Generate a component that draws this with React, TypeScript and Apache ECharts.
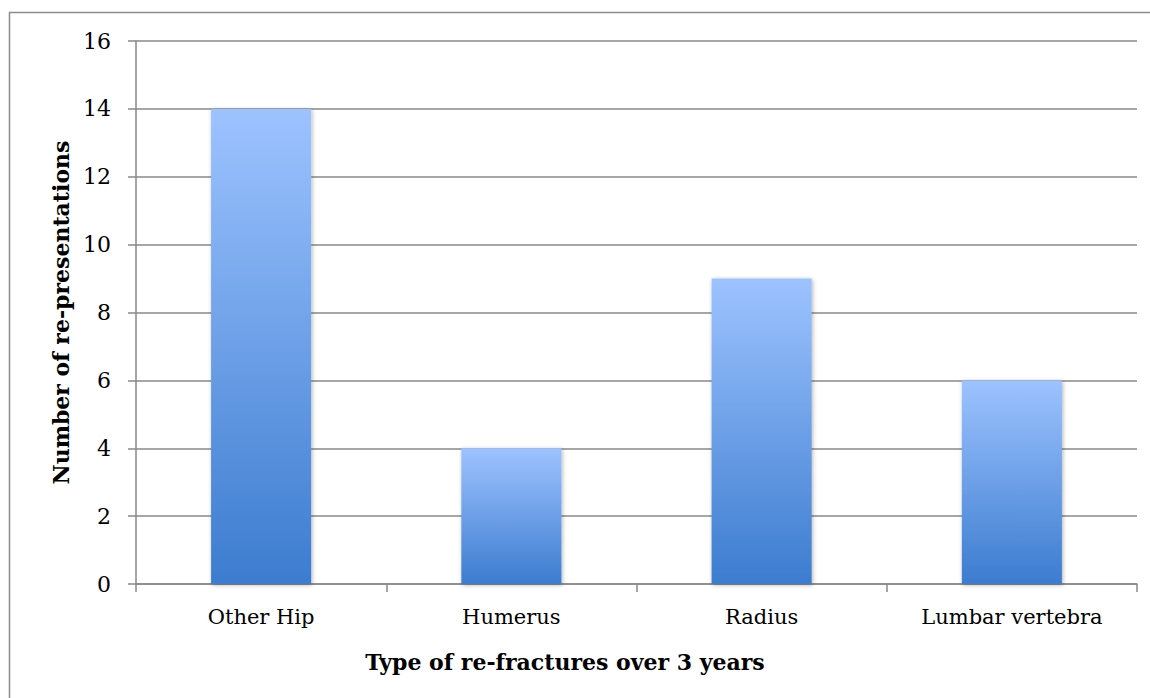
import React, { useEffect, useRef } from "react";
import * as echarts from "echarts";

const categories = ["Other Hip", "Humerus", "Radius", "Lumbar vertebra"];
const values = [14, 4, 9, 6];
const xTitle = "Type of re-fractures over 3 years";
const yTitle = "Number of re-presentations";

export default function App() {
  const ref = useRef<HTMLDivElement>(null);
  useEffect(() => {
    if (!ref.current) return;
    const chart = echarts.init(ref.current, null, { renderer: "svg" });
    const font = "DejaVu Serif";
    chart.setOption({
      animation: false,
      graphic: [
        {
          type: "rect",
          shape: { x: 9.5, y: 12.5, width: 1200, height: 750 },
          style: { fill: "none", stroke: "#8c8c8c", lineWidth: 1.5 },
          silent: true,
        },
        {
          type: "text",
          x: 565,
          y: 662,
          style: {
            text: xTitle,
            fontFamily: font,
            fontSize: 22,
            fontWeight: "bold",
            fill: "#000",
            align: "center",
            verticalAlign: "middle",
          },
          silent: true,
        },
      ],
      grid: { left: 136, right: 13, top: 41, bottom: 114, containLabel: false },
      xAxis: {
        type: "category",
        data: categories,
        axisLine: { lineStyle: { color: "#888", width: 1.5 } },
        axisTick: { show: true, length: 8, lineStyle: { color: "#888", width: 1.5 } },
        axisLabel: { fontFamily: font, fontSize: 21, color: "#000", margin: 22 },
      },
      yAxis: {
        type: "value",
        min: 0,
        max: 16,
        interval: 2,
        name: yTitle,
        nameLocation: "middle",
        nameGap: 63,
        nameTextStyle: { fontFamily: font, fontSize: 22, fontWeight: "bold", color: "#000" },
        axisLine: { show: true, lineStyle: { color: "#888", width: 1.5 } },
        axisTick: { show: true, length: 8, lineStyle: { color: "#888", width: 1.5 } },
        axisLabel: { fontFamily: font, fontSize: 22, color: "#000", margin: 25 },
        splitLine: { lineStyle: { color: "#888", width: 1.5 } },
      },
      series: [
        {
          type: "bar",
          data: values,
          barWidth: "40%",
          itemStyle: {
            color: new echarts.graphic.LinearGradient(0, 0, 0, 1, [
              { offset: 0, color: "#9dc3ff" },
              { offset: 1, color: "#3c7ccf" },
            ]),
            shadowBlur: 4,
            shadowColor: "rgba(0,0,0,0.3)",
            shadowOffsetX: 1,
            shadowOffsetY: 1,
          },
        },
      ],
    });
    return () => chart.dispose();
  }, []);
  return (
    <div
      ref={ref}
      style={{ position: "absolute", left: 0, top: 0, width: 1150, height: 698 }}
    />
  );
}
